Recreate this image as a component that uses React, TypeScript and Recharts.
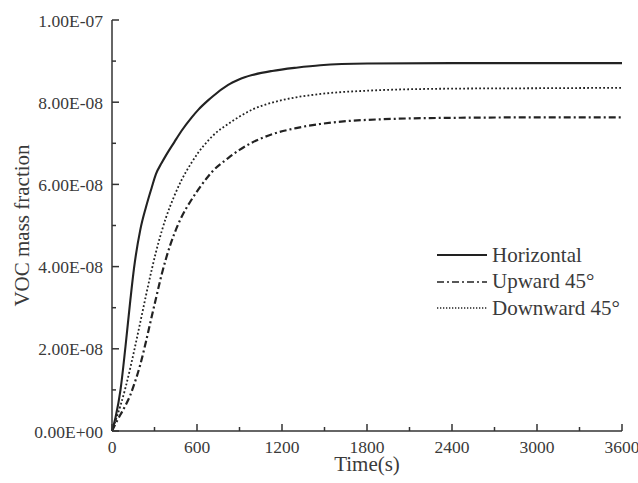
import React from 'react';
import { LineChart, Line, XAxis, YAxis, Legend, Label } from 'recharts';

// Time in seconds
const times = [0, 25, 60, 95, 130, 155, 200, 240, 280, 310, 350, 380, 440, 490, 560, 610, 680, 710, 820, 850, 900, 990, 1130, 1300, 1470, 1800, 2400, 3000, 3600];
// VOC mass fraction, in units of 1e-8
const horizontal = [0, 0.33, 1.0, 2.05, 3.2, 3.95, 4.9, 5.45, 5.92, 6.25, 6.52, 6.7, 7.03, 7.3, 7.62, 7.82, 8.05, 8.14, 8.42, 8.48, 8.56, 8.66, 8.76, 8.84, 8.9, 8.94, 8.95, 8.95, 8.95];
const upward45 = [0, 0.18, 0.4, 0.62, 0.88, 1.12, 1.62, 2.18, 2.78, 3.22, 3.8, 4.18, 4.8, 5.2, 5.62, 5.88, 6.2, 6.32, 6.64, 6.72, 6.84, 7.02, 7.22, 7.37, 7.47, 7.57, 7.62, 7.63, 7.63];
const downward45 = [0, 0.25, 0.62, 1.05, 1.55, 1.93, 2.65, 3.3, 3.92, 4.35, 4.85, 5.18, 5.72, 6.1, 6.52, 6.78, 7.07, 7.18, 7.47, 7.54, 7.65, 7.82, 7.99, 8.12, 8.2, 8.28, 8.33, 8.34, 8.35];
const UNIT = 1e-8;

const seriesNames = ['Horizontal', 'Upward 45°', 'Downward 45°'];

const xTicks = [0, 300, 600, 900, 1200, 1500, 1800, 2100, 2400, 2700, 3000, 3300, 3600];
const xMajorTicks = [0, 600, 1200, 1800, 2400, 3000, 3600];
const xTickLabels = ['0', '600', '1200', '1800', '2400', '3000', '3600'];

const yTicks = [0, 1e-8, 2e-8, 3e-8, 4e-8, 5e-8, 6e-8, 7e-8, 8e-8, 9e-8, 1e-7];
const yMajorTicks = [0, 2e-8, 4e-8, 6e-8, 8e-8, 1e-7];
const yTickLabels = ['0.00E+00', '2.00E-08', '4.00E-08', '6.00E-08', '8.00E-08', '1.00E-07'];

const data = times.map((t, i) => ({
  t,
  h: horizontal[i] * UNIT,
  u: upward45[i] * UNIT,
  d: downward45[i] * UNIT,
}));

const FONT = '"Liberation Serif", "Times New Roman", serif';
const AXIS = '#333';
const TEXT = '#3a3a3a';
const LINE = '#222';
const DASHDOT = '7 3 2 3';
const DOTTED = '1.8 2.2';

const findIdx = (arr: number[], v: number) => arr.findIndex((a) => Math.abs(a - v) < 1e-12 + Math.abs(a) * 1e-6);

const XTick = (props: any) => {
  const { x, y, payload } = props;
  const idx = findIdx(xMajorTicks, payload.value);
  const major = idx >= 0;
  return (
    <g>
      <line x1={x} x2={x} y1={y} y2={y - (major ? 7 : 4)} stroke={AXIS} strokeWidth={1.5} />
      {major && (
        <text x={x} y={y + 22} textAnchor="middle" fontFamily={FONT} fontSize={17.5} fill={TEXT}>
          {xTickLabels[idx]}
        </text>
      )}
    </g>
  );
};

const YTick = (props: any) => {
  const { x, y, payload } = props;
  const idx = findIdx(yMajorTicks, payload.value);
  const major = idx >= 0;
  return (
    <g>
      <line x1={x} x2={x + (major ? 7 : 4)} y1={y} y2={y} stroke={AXIS} strokeWidth={1.5} />
      {major && (
        <text x={x - 9} y={y + 6.5} textAnchor="end" fontFamily={FONT} fontSize={17.5} fill={TEXT}>
          {yTickLabels[idx]}
        </text>
      )}
    </g>
  );
};

const legendStyles = [
  { dash: undefined as string | undefined, width: 2 },
  { dash: DASHDOT, width: 1.6 },
  { dash: '1.3 1.7', width: 1.3 },
];

const LegendContent = () => (
  <div style={{ fontFamily: FONT, fontSize: 21, color: TEXT }}>
    {seriesNames.map((name, i) => (
      <div key={name} style={{ display: 'flex', alignItems: 'center', height: 26.5, whiteSpace: 'nowrap' }}>
        <svg width={50} height={10} style={{ display: 'block', marginRight: 5 }}>
          <line x1={0} x2={50} y1={5} y2={5} stroke={LINE} strokeWidth={legendStyles[i].width} strokeDasharray={legendStyles[i].dash} />
        </svg>
        <span style={{ lineHeight: '26.5px' }}>{name}</span>
      </div>
    ))}
  </div>
);

export default function App() {
  return (
    <div style={{ position: 'absolute', left: 0, top: 0, background: '#fff' }}>
      <LineChart width={638} height={483} data={data} margin={{ top: 20, right: 16, bottom: 0, left: 0 }}>
        <XAxis
          dataKey="t"
          type="number"
          domain={[0, 3600]}
          ticks={xTicks}
          interval={0}
          height={52}
          tickSize={0}
          tickMargin={0}
          tickLine={false}
          tick={<XTick />}
          axisLine={{ stroke: AXIS, strokeWidth: 1.5 }}
        >
          <Label value="Time(s)" position="insideBottom" offset={12} style={{ fontFamily: FONT, fontSize: 21, fill: TEXT }} />
        </XAxis>
        <YAxis
          type="number"
          domain={[0, 1e-7]}
          ticks={yTicks}
          interval={0}
          width={112}
          tickSize={0}
          tickMargin={0}
          tickLine={false}
          tick={<YTick />}
          axisLine={{ stroke: AXIS, strokeWidth: 1.5 }}
          allowDataOverflow
        >
          <Label
            value="VOC mass fraction"
            angle={-90}
            position="insideLeft"
            offset={22}
            style={{ fontFamily: FONT, fontSize: 21, fill: TEXT, textAnchor: 'middle' }}
          />
        </YAxis>
        <Legend
          layout="vertical"
          align="center"
          verticalAlign="middle"
          content={<LegendContent />}
          wrapperStyle={{ position: 'absolute', left: 437, top: 241.75, width: 200, height: 80 }}
        />
        <Line type="monotone" dataKey="h" name={seriesNames[0]} stroke={LINE} strokeWidth={2.1} dot={false} isAnimationActive={false} />
        <Line type="monotone" dataKey="u" name={seriesNames[1]} stroke={LINE} strokeWidth={2.2} strokeDasharray={DASHDOT} dot={false} isAnimationActive={false} />
        <Line type="monotone" dataKey="d" name={seriesNames[2]} stroke={LINE} strokeWidth={1.8} strokeDasharray={DOTTED} dot={false} isAnimationActive={false} />
      </LineChart>
    </div>
  );
}
